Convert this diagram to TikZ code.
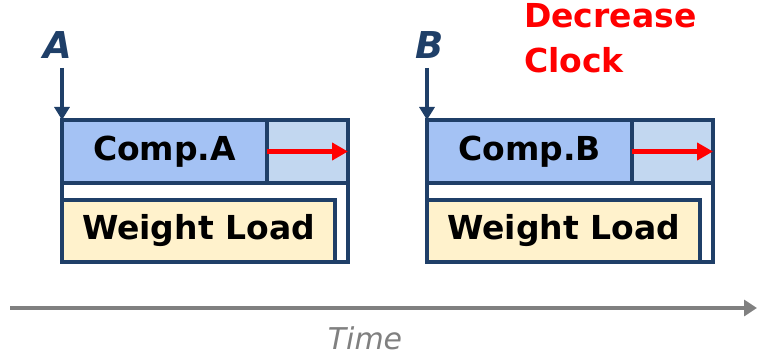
\documentclass[tikz,border=0pt]{standalone}
\usepackage{fontspec}
\setmainfont{DejaVu Sans}
\usetikzlibrary{arrows.meta}
\definecolor{frameblue}{HTML}{1F3F68}
\definecolor{compfill}{HTML}{A4C2F4}
\definecolor{slackfill}{HTML}{C2D7F0}
\definecolor{loadfill}{HTML}{FFF2CC}
\definecolor{timegray}{HTML}{808080}
\tikzset{
  box/.style={draw=frameblue, line width=4.5pt, inner sep=0pt, outer sep=0pt, anchor=north west},
  frame/.style={box, fill=white},
  comp/.style={box, fill=compfill, font=\bfseries\fontsize{33}{38}\selectfont},
  slack/.style={box, fill=slackfill},
  load/.style={box, fill=loadfill, font=\bfseries\fontsize{33}{38}\selectfont},
  marker/.style={text=frameblue, font=\bfseries\itshape\fontsize{37}{40}\selectfont},
  startarrow/.style={draw=frameblue, line width=3.5pt, -{Triangle[length=13pt,width=15pt]}},
  stretch/.style={draw=red, line width=5pt, -{Triangle[length=16pt,width=17pt]}},
}
\begin{document}
\begin{tikzpicture}[x=1pt,y=-1pt]
\useasboundingbox (0,0) rectangle (757,358);

% ---- iteration A ----
\node[frame, minimum width=286, minimum height=142] (frameA) at (62,120) {};
\node[comp, minimum width=205, minimum height=63] (compA) at (62,120) {Comp.A};
\node[slack, minimum width=81, minimum height=63] (slackA) at (267,120) {};
\node[load, minimum width=273, minimum height=62] (loadA) at (62,200) {Weight Load};
\node[marker] (labA) at (58,45) {A};
\coordinate (topA) at (62,68);
\draw[startarrow] (topA) -- (frameA.north west);
\draw[stretch] (compA.east) -- (slackA.east);

% ---- iteration B ----
\node[frame, minimum width=286, minimum height=142] (frameB) at (427,120) {};
\node[comp, minimum width=205, minimum height=63] (compB) at (427,120) {Comp.B};
\node[slack, minimum width=81, minimum height=63] (slackB) at (632,120) {};
\node[load, minimum width=273, minimum height=62] (loadB) at (427,200) {Weight Load};
\node[marker] (labB) at (430,45) {B};
\coordinate (topB) at (427,68);
\draw[startarrow] (topB) -- (frameB.north west);
\draw[stretch] (compB.east) -- (slackB.east);

% ---- annotation ----
\node[anchor=north west, inner sep=0pt, text=red, align=left,
      font=\bfseries\fontsize{33}{45}\selectfont] (note) at (524,3) {Decrease\\Clock};

% ---- time axis ----
\coordinate (t0) at (10,308);
\coordinate (t1) at (757,308);
\draw[draw=timegray, line width=4pt, -{Triangle[length=13pt,width=16pt]}] (t0) -- (t1);
\node[text=timegray, inner sep=0pt, anchor=base,
      font=\itshape\fontsize{30}{34}\selectfont] (time) at (365,349) {Time};
\end{tikzpicture}
\end{document}
